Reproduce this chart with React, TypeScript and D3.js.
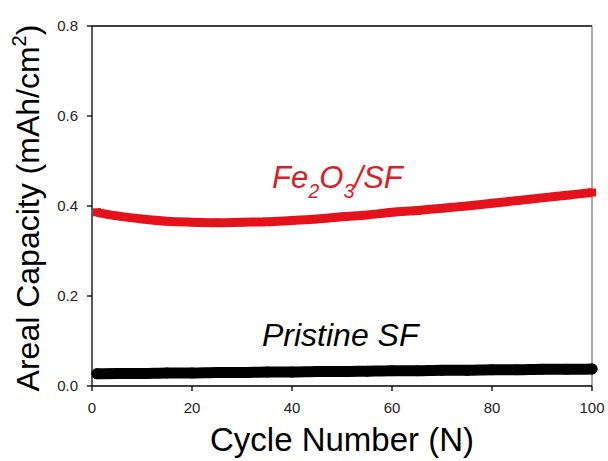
import React from "react";
import * as d3 from "d3";

const cycles = [1, 5, 10, 15, 20, 25, 30, 35, 40, 45, 50, 55, 60, 65, 70, 75, 80, 85, 90, 95, 100];
const fe2o3Values = [0.386, 0.378, 0.371, 0.366, 0.364, 0.363, 0.364, 0.365, 0.368, 0.371, 0.376, 0.380, 0.386, 0.390, 0.395, 0.400, 0.406, 0.412, 0.418, 0.424, 0.430];
const pristineValues = [0.027, 0.028, 0.028, 0.029, 0.029, 0.030, 0.030, 0.031, 0.031, 0.032, 0.032, 0.033, 0.034, 0.034, 0.035, 0.035, 0.036, 0.036, 0.037, 0.037, 0.038];
const xTicks = [0, 20, 40, 60, 80, 100];
const yTicks = [0.0, 0.2, 0.4, 0.6, 0.8];

const W = 608, H = 461;
const left = 92, right = 592, top = 26, bottom = 386;

export default function App() {
  const x = d3.scaleLinear().domain([0, 100]).range([left, right]);
  const y = d3.scaleLinear().domain([0, 0.8]).range([bottom, top]);
  const redPts = cycles.map((c, i) => [c, fe2o3Values[i]] as [number, number]);
  const blkPts = cycles.map((c, i) => [c, pristineValues[i]] as [number, number]);
  const line = d3.line<[number, number]>().x(d => x(d[0])).y(d => y(d[1])).curve(d3.curveMonotoneX);
  const font = "'Liberation Sans', Arial, sans-serif";
  const red = "#e3121b";
  return (
    <svg width={W} height={H} style={{ position: "absolute", left: 0, top: 0, background: "#fff" }} fontFamily={font}>
      <line x1={left} x2={right} y1={top} y2={top} stroke="#000" strokeWidth={1.3} />
      <line x1={right} x2={right} y1={top} y2={bottom} stroke="#555" strokeWidth={1} />
      <line x1={left} x2={left} y1={top} y2={bottom} stroke="#000" strokeWidth={1.3} />
      <line x1={left} x2={right} y1={bottom} y2={bottom} stroke="#000" strokeWidth={1.3} />
      {yTicks.map(t => (
        <g key={"y" + t}>
          <line x1={left - 5} x2={left} y1={y(t)} y2={y(t)} stroke="#000" strokeWidth={1.3} />
          <text x={78} y={y(t) + 5} textAnchor="end" fontSize={15} fill="#222">{t.toFixed(1)}</text>
        </g>
      ))}
      {xTicks.map(t => (
        <g key={"x" + t}>
          <line x1={x(t)} x2={x(t)} y1={bottom} y2={bottom + 5} stroke="#000" strokeWidth={1.3} />
          <text x={x(t)} y={413} textAnchor="middle" fontSize={15} fill="#222">{t}</text>
        </g>
      ))}
      <path d={line(redPts) || ""} fill="none" stroke={red} strokeWidth={9} />
      {redPts.map((p, i) => (
        <rect key={"r" + i} x={x(p[0]) - 4} y={y(p[1]) - 4} width={8} height={8} fill={red} />
      ))}
      <path d={line(blkPts) || ""} fill="none" stroke="#000" strokeWidth={11} strokeLinecap="round" />
      {blkPts.map((p, i) => (
        <circle key={"b" + i} cx={x(p[0])} cy={y(p[1])} r={5.5} fill="#000" />
      ))}
      <text x={272} y={188} fontSize={31} fontStyle="italic" fill="#d8202a">
        Fe<tspan fontSize={20} dy={10}>2</tspan><tspan dy={-10}>O</tspan><tspan fontSize={20} dy={10}>3</tspan><tspan dy={-10}>/SF</tspan>
      </text>
      <text x={262} y={346} fontSize={32} fontStyle="italic" fill="#000">Pristine SF</text>
      <text x={342} y={451} textAnchor="middle" fontSize={33} fill="#000">Cycle Number (N)</text>
      <text transform={`translate(39,208) rotate(-90)`} textAnchor="middle" fontSize={32} fill="#000">
        Areal Capacity (mAh/cm<tspan fontSize={20} dy={-13}>2</tspan><tspan dy={13}>)</tspan>
      </text>
    </svg>
  );
}
